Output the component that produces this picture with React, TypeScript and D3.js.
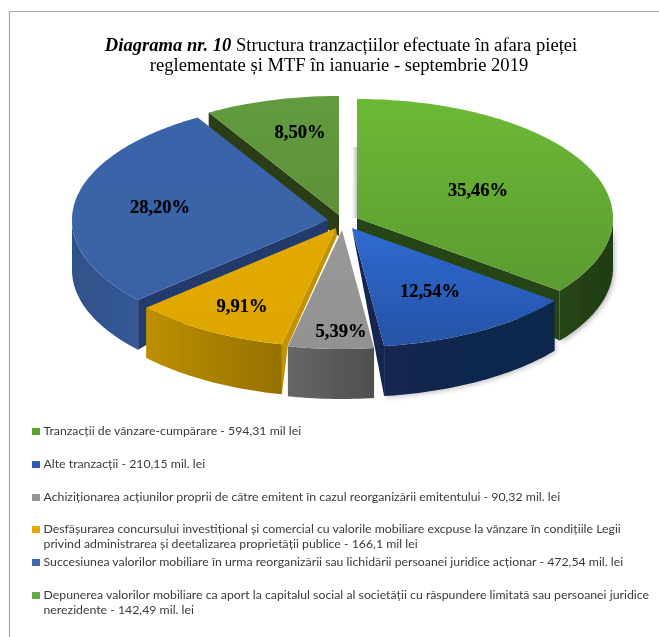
import React from "react";
import * as d3 from "d3";

const percents = [35.46, 12.54, 5.39, 9.91, 28.2, 8.5];
const percentLabels = ["35,46%", "12,54%", "5,39%", "9,91%", "28,20%", "8,50%"];
const legendLines = [
  ["Tranzacții de vânzare-cumpărare - 594,31 mil lei"],
  ["Alte tranzacții - 210,15 mil. lei"],
  ["Achiziționarea acțiunilor proprii de către emitent în cazul reorganizării emitentului - 90,32 mil. lei"],
  ["Desfășurarea concursului investițional și comercial cu valorile mobiliare excpuse la vânzare în condițiile Legii", "privind administrarea și deetalizarea proprietății publice - 166,1 mil lei"],
  ["Succesiunea valorilor mobiliare în urma reorganizării sau lichidării persoanei juridice acționar - 472,54 mil. lei"],
  ["Depunerea valorilor mobiliare ca aport la capitalul social al societății cu răspundere limitată sau persoanei juridice", "nerezidente - 142,49 mil. lei"],
];
const topColorsA = ["#6cb935", "#2f6ad2", "#989898", "#e2aa00", "#3a64aa", "#639b40"];
const topColorsB = ["#5c9b32", "#2553a6", "#929292", "#dfa600", "#3a62a6", "#5d913a"];
const sideColorsA = ["#274514", "#12284f", "#666666", "#bd8f00", "#2f5189", "#2a3f17"];
const sideColorsB = ["#223c12", "#10264a", "#4f4f4f", "#957100", "#355997", "#2a3f17"];
const wallColors = ["#274514", "#12284f", "#666666", "#c29200", "#233a6c", "#2a3d18"];
const legendColors = ["#5fa033", "#2a5db5", "#969696", "#e2aa00", "#3f68b0", "#66a84c"];

const W = 659;
const H = 637;
const RX = 256;
const RY = 119;
const DEPTH = 50;
const apexes: [number, number][] = [
  [357, 218],
  [352, 228],
  [342, 230],
  [336, 228],
  [328, 220],
  [339, 215],
];
const labelPos: [number, number][] = [
  [478, 196],
  [430, 297],
  [341, 337],
  [242, 312],
  [160, 213],
  [300, 138],
];
const legendBaselines = [435, 468, 501, 533, 566, 599];
const LEGEND_LINE = 15;

const pieGen = d3.pie<number>().sort(null).value((d) => d);
const arcs = pieGen(percents);
const px = d3.scaleLinear().domain([-1, 1]).range([-RX, RX]);
const py = d3.scaleLinear().domain([-1, 1]).range([-RY, RY]);
const rimPoint = (i: number, a: number, dy = 0): [number, number] => [
  apexes[i][0] + px(Math.sin(a)),
  apexes[i][1] - py(Math.cos(a)) + dy,
];
const rim = (i: number, a0: number, a1: number, dy = 0) => {
  const n = Math.max(2, Math.ceil(Math.abs(a1 - a0) / 0.02));
  return d3.range(n + 1).map((k) => rimPoint(i, a0 + ((a1 - a0) * k) / n, dy));
};
const line = d3.line();
const closed = (pts: [number, number][]) => line(pts) + "Z";

// Slices are painted back to front so the nearer ones cover the inner walls.
const order = [5, 0, 4, 1, 3, 2];

function wallOf(i: number) {
  const a = arcs[i];
  const ap = apexes[i];
  if (i === 0) {
    const c = rimPoint(i, a.endAngle);
    return closed([ap, c, [c[0], c[1] + DEPTH], [ap[0], ap[1] + 14]]);
  }
  if (i === 1) {
    const c = rimPoint(i, a.endAngle);
    return closed([ap, c, [c[0], c[1] + DEPTH]]);
  }
  if (i === 3) {
    const c = rimPoint(i, a.startAngle);
    return closed([ap, [ap[0] + 1, ap[1] + 8], [c[0] + 6, c[1] + 1], [c[0], c[1] + DEPTH], c]);
  }
  if (i === 4) {
    const c = rimPoint(i, a.startAngle);
    return closed([ap, c, [c[0], c[1] + DEPTH], [ap[0], ap[1] + 18]]);
  }
  if (i === 5) {
    const c = rimPoint(i, a.startAngle);
    return closed([ap, c, [c[0], c[1] + DEPTH], [ap[0], ap[1] + 21]]);
  }
  return null;
}

function sideOf(i: number) {
  const a = arcs[i];
  const s = Math.max(a.startAngle, Math.PI / 2);
  const e = Math.min(a.endAngle, (3 * Math.PI) / 2);
  if (e <= s) return null;
  return closed([...rim(i, s, e), ...rim(i, e, s, DEPTH)]);
}

function topOf(i: number) {
  const a = arcs[i];
  return closed([apexes[i], ...rim(i, a.startAngle, a.endAngle)]);
}

export default function App() {
  return (
    <svg
      width={W}
      height={H}
      viewBox={`0 0 ${W} ${H}`}
      style={{ position: "absolute", left: 0, top: 0, display: "block" }}
    >
      <defs>
        <filter id="soft" x="-5%" y="-5%" width="110%" height="110%">
          <feGaussianBlur stdDeviation="0.4" />
        </filter>
        <filter id="shade" x="-30%" y="-30%" width="160%" height="160%">
          <feGaussianBlur stdDeviation="2" />
        </filter>
        <linearGradient id="gapShadow" x1="0" x2="1" y1="0" y2="0">
          <stop offset="0" stopColor="#ffffff" />
          <stop offset="1" stopColor="#a8a8a8" />
        </linearGradient>
        {percents.map((_, i) => (
          <React.Fragment key={i}>
            <linearGradient id={`top${i}`} x1="0" x2="0" y1="0" y2="1">
              <stop offset="0" stopColor={topColorsA[i]} />
              <stop offset="1" stopColor={topColorsB[i]} />
            </linearGradient>
            <linearGradient id={`side${i}`} x1="0" x2="1" y1="0" y2="0">
              <stop offset="0" stopColor={sideColorsA[i]} />
              <stop offset="1" stopColor={sideColorsB[i]} />
            </linearGradient>
          </React.Fragment>
        ))}
      </defs>
      <rect width={W} height={H} fill="#ffffff" />
      <g filter="url(#soft)">
        <path d={`M9.5 ${H}V11.5H${W}`} fill="none" stroke="#a6a6a6" strokeWidth={1.2} />
        <text fontFamily="'Liberation Serif', serif" fontSize={18.6} fill="#000" textAnchor="middle">
          <tspan x={341} y={51}>
            <tspan fontWeight="bold" fontStyle="italic">Diagrama nr. 10</tspan> Structura tranzacțiilor efectuate în afara pieței
          </tspan>
          <tspan x={339} y={71}>reglementate și MTF în ianuarie - septembrie 2019</tspan>
        </text>

        <rect x={352} y={147} width={5} height={71} fill="url(#gapShadow)" opacity={0.7} />
        <path d={sideOf(0) ?? ""} fill="#888888" opacity={0.5} filter="url(#shade)" transform="translate(2,2)" />
        <path d={sideOf(1) ?? ""} fill="#888888" opacity={0.4} filter="url(#shade)" transform="translate(2,2)" />
        {order.map((i) => {
          const wall = wallOf(i);
          const side = sideOf(i);
          return (
            <g key={i}>
              {wall && <path d={wall} fill={wallColors[i]} />}
              {side && <path d={side} fill={`url(#side${i})`} />}
              <path d={topOf(i)} fill={`url(#top${i})`} />
            </g>
          );
        })}

        {percentLabels.map((t, i) => (
          <text
            key={t}
            x={labelPos[i][0]}
            y={labelPos[i][1]}
            textAnchor="middle"
            fontFamily="'Liberation Serif', serif"
            fontWeight="bold"
            fontSize={18.5}
            fill="#000"
            stroke="#000"
            strokeWidth={0.2}
          >
            {t}
          </text>
        ))}

        {legendLines.map((lines, i) => (
          <g key={i}>
            <rect x={32} y={legendBaselines[i] - 7} width={8} height={7} fill={legendColors[i]} />
            {lines.map((l, k) => (
              <text
                key={k}
                x={43.5}
                y={legendBaselines[i] + k * LEGEND_LINE}
                fontFamily="Lato, sans-serif"
                fontSize={12.3}
                fill="#3a3a3a"
              >
                {l}
              </text>
            ))}
          </g>
        ))}
      </g>
    </svg>
  );
}
